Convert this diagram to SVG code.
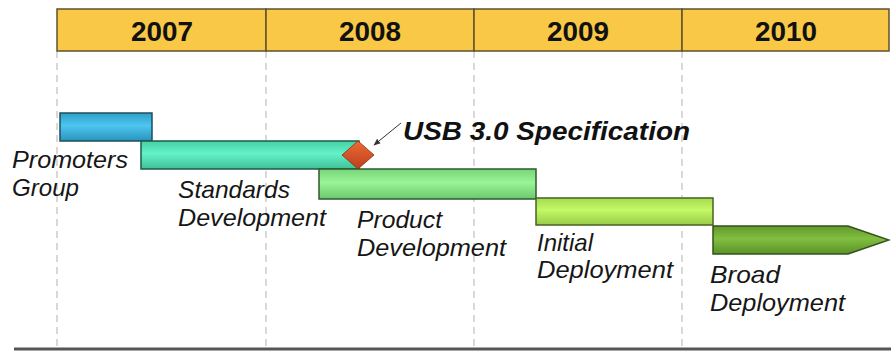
<svg xmlns="http://www.w3.org/2000/svg" width="891" height="352" viewBox="0 0 891 352">
  <style>
    .year { font-family: "Liberation Sans", Arial, sans-serif; font-weight: bold; font-size: 28px; fill: #111; text-anchor: middle; }
    .lbl { font-family: "Liberation Sans", Arial, sans-serif; font-style: italic; font-size: 24px; fill: #161616; }
    .milestone { font-family: "Liberation Sans", Arial, sans-serif; font-style: italic; font-weight: bold; font-size: 26px; fill: #111; }
    .grid { stroke: #c4c4c4; stroke-width: 1.3; stroke-dasharray: 7 5; fill: none; }
    .cell { fill: #f8c846; stroke: #5e5230; stroke-width: 1.5; }
    .bar { stroke-width: 1.5; }
  </style>
  <defs>
    <linearGradient id="gBlue" x1="0" y1="0" x2="0" y2="1">
      <stop offset="0" stop-color="#2f9fc8"/>
      <stop offset="0.45" stop-color="#4cc6f0"/>
      <stop offset="1" stop-color="#2a93bb"/>
    </linearGradient>
    <linearGradient id="gTeal" x1="0" y1="0" x2="0" y2="1">
      <stop offset="0" stop-color="#46cfa4"/>
      <stop offset="0.45" stop-color="#64f2c8"/>
      <stop offset="1" stop-color="#3fc097"/>
    </linearGradient>
    <linearGradient id="gGreen" x1="0" y1="0" x2="0" y2="1">
      <stop offset="0" stop-color="#78d678"/>
      <stop offset="0.45" stop-color="#98f496"/>
      <stop offset="1" stop-color="#6cc86c"/>
    </linearGradient>
    <linearGradient id="gLime" x1="0" y1="0" x2="0" y2="1">
      <stop offset="0" stop-color="#a4dc50"/>
      <stop offset="0.45" stop-color="#c4f866"/>
      <stop offset="1" stop-color="#98cc48"/>
    </linearGradient>
    <linearGradient id="gOlive" x1="0" y1="0" x2="0" y2="1">
      <stop offset="0" stop-color="#5f9a2c"/>
      <stop offset="0.45" stop-color="#82be40"/>
      <stop offset="1" stop-color="#5a9228"/>
    </linearGradient>
    <linearGradient id="gDiamond" x1="0" y1="0" x2="0" y2="1">
      <stop offset="0" stop-color="#f06a34"/>
      <stop offset="1" stop-color="#b9401c"/>
    </linearGradient>
    <marker id="arrowHead" viewBox="0 0 10 10" refX="9" refY="5" markerWidth="7" markerHeight="7" orient="auto">
      <path d="M0,1 L10,5 L0,9 Z" fill="#333"/>
    </marker>
  </defs>

  <!-- year dividers -->
  <g id="gridlines">
    <line class="grid" x1="57" y1="51" x2="57" y2="347"/>
    <line class="grid" x1="266" y1="51" x2="266" y2="347"/>
    <line class="grid" x1="474" y1="51" x2="474" y2="347"/>
    <line class="grid" x1="682" y1="51" x2="682" y2="347"/>
  </g>

  <!-- year header -->
  <g id="header">
    <rect class="cell" x="57" y="9" width="209" height="42"/>
    <rect class="cell" x="266" y="9" width="208" height="42"/>
    <rect class="cell" x="474" y="9" width="208" height="42"/>
    <rect class="cell" x="682" y="9" width="207" height="42"/>
    <text class="year" x="162" y="41" textLength="62" lengthAdjust="spacingAndGlyphs">2007</text>
    <text class="year" x="370" y="41" textLength="62" lengthAdjust="spacingAndGlyphs">2008</text>
    <text class="year" x="578" y="41" textLength="62" lengthAdjust="spacingAndGlyphs">2009</text>
    <text class="year" x="786" y="41" textLength="62" lengthAdjust="spacingAndGlyphs">2010</text>
  </g>

  <!-- phases -->
  <g id="promoters">
    <rect class="bar" x="60" y="113" width="92" height="28" fill="url(#gBlue)" stroke="#1f4d5c"/>
    <text class="lbl" x="12" y="168" textLength="116" lengthAdjust="spacingAndGlyphs">Promoters</text>
    <text class="lbl" x="12" y="196" textLength="67" lengthAdjust="spacingAndGlyphs">Group</text>
  </g>

  <g id="standards">
    <rect class="bar" x="141" y="141" width="218" height="28" fill="url(#gTeal)" stroke="#1f5a48"/>
    <text class="lbl" x="178" y="198" textLength="112" lengthAdjust="spacingAndGlyphs">Standards</text>
    <text class="lbl" x="178" y="226" textLength="148" lengthAdjust="spacingAndGlyphs">Development</text>
  </g>

  <g id="product">
    <rect class="bar" x="319" y="169" width="217" height="30" fill="url(#gGreen)" stroke="#2e5a2e"/>
    <text class="lbl" x="357" y="228" textLength="85" lengthAdjust="spacingAndGlyphs">Product</text>
    <text class="lbl" x="357" y="256" textLength="149" lengthAdjust="spacingAndGlyphs">Development</text>
  </g>

  <g id="initial">
    <rect class="bar" x="536" y="198" width="177" height="27" fill="url(#gLime)" stroke="#4a6222"/>
    <text class="lbl" x="537" y="251" textLength="56" lengthAdjust="spacingAndGlyphs">Initial</text>
    <text class="lbl" x="537" y="278" textLength="136" lengthAdjust="spacingAndGlyphs">Deployment</text>
  </g>

  <g id="broad">
    <path class="bar" d="M713,226 L848,226 L889,240 L848,254 L713,254 Z" fill="url(#gOlive)" stroke="#33501a"/>
    <text class="lbl" x="710" y="283" textLength="70" lengthAdjust="spacingAndGlyphs">Broad</text>
    <text class="lbl" x="710" y="311" textLength="135" lengthAdjust="spacingAndGlyphs">Deployment</text>
  </g>

  <g id="spec">
    <path d="M358,141 L374,155 L358,169 L342,155 Z" fill="url(#gDiamond)" stroke="#8a2e12" stroke-width="0.8"/>
    <text class="milestone" x="403" y="140" textLength="287" lengthAdjust="spacingAndGlyphs">USB 3.0 Specification</text>
  </g>

  <!-- callout arrow -->
  <g id="connectors">
    <line x1="401" y1="123" x2="374" y2="145" stroke="#333" stroke-width="1" marker-end="url(#arrowHead)"/>
  </g>

  <!-- baseline -->
  <line x1="14" y1="349" x2="891" y2="349" stroke="#555" stroke-width="3"/>
</svg>
